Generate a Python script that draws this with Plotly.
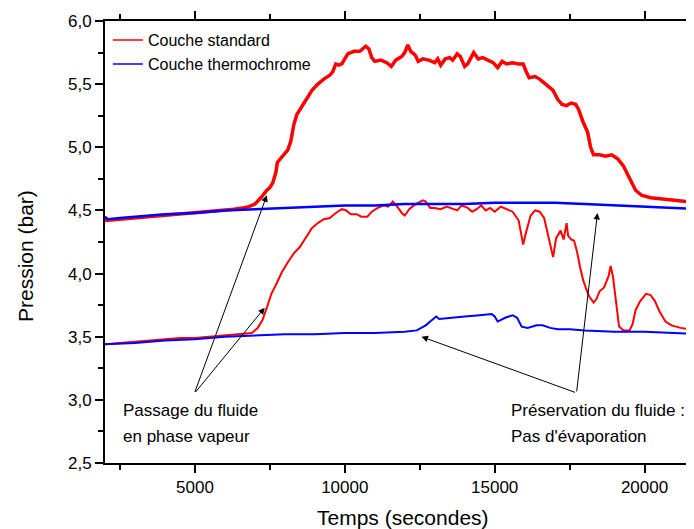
import plotly.graph_objects as go

# couche standard, courbe haute
std_haut_t = [2000, 2500, 3000, 3500, 4000, 4500, 5000, 5500, 6000, 6300, 6600, 6800, 7000, 7200, 7400, 7500,
              7600, 7700, 7750, 7850, 8000, 8100, 8200, 8300, 8400, 8500, 8700, 8900, 9100, 9300, 9500, 9600,
              9700, 9800, 9900, 10000, 10100, 10300, 10500, 10700, 10800, 10900, 11000, 11200, 11400, 11550,
              11700, 11900, 12000, 12100, 12200, 12350, 12450, 12600, 12800, 13000, 13100, 13200, 13350, 13500,
              13600, 13750, 13850, 14000, 14100, 14300, 14450, 14600, 14800, 14950, 15100, 15250, 15400, 15600,
              15800, 15950, 16050, 16150, 16350, 16500, 16700, 16850, 16950, 17100, 17250, 17400, 17550, 17700,
              17800, 17950, 18100, 18200, 18300, 18500, 18700, 18900, 19100, 19300, 19500, 19700, 19900, 20200,
              20600, 21000, 21400, 21800]
std_haut_p = [4.42, 4.43, 4.44, 4.45, 4.46, 4.47, 4.48, 4.49, 4.50, 4.51, 4.52, 4.53, 4.55, 4.60, 4.66, 4.68,
              4.72, 4.80, 4.88, 4.91, 4.95, 4.98, 5.05, 5.18, 5.26, 5.30, 5.38, 5.45, 5.50, 5.54, 5.57, 5.60,
              5.66, 5.65, 5.66, 5.70, 5.74, 5.76, 5.76, 5.80, 5.78, 5.71, 5.68, 5.69, 5.67, 5.64,
              5.69, 5.72, 5.75, 5.81, 5.76, 5.73, 5.68, 5.70, 5.69, 5.67, 5.70, 5.65, 5.70, 5.71,
              5.69, 5.74, 5.72, 5.64, 5.66, 5.75, 5.70, 5.71, 5.69, 5.67, 5.63, 5.68, 5.66, 5.67,
              5.66, 5.66, 5.60, 5.55, 5.56, 5.54, 5.50, 5.47, 5.45, 5.38, 5.34, 5.33, 5.35, 5.34,
              5.30, 5.20, 5.12, 5.00, 4.94, 4.94, 4.93, 4.94, 4.91, 4.85, 4.76, 4.66, 4.62, 4.60,
              4.59, 4.58, 4.57, 4.56]

# couche standard, courbe basse
std_bas_t = [2000, 2500, 3000, 3500, 4000, 4500, 5000, 5500, 6000, 6500, 6900, 7100, 7250, 7400, 7550, 7700,
             7900, 8100, 8300, 8500, 8700, 8900, 9100, 9300, 9500, 9700, 9900, 10050, 10200, 10400, 10550,
             10750, 10900, 11100, 11300, 11450, 11600, 11750, 11900, 12000, 12150, 12300, 12450, 12600, 12700,
             12850, 13000, 13200, 13400, 13600, 13750, 13900, 14100, 14250, 14400, 14550, 14700, 14850, 15000,
             15200, 15400, 15600, 15800, 15900, 15950, 16050, 16200, 16350, 16500, 16650, 16750, 16900, 16950,
             17050, 17200, 17300, 17400, 17450, 17550, 17650, 17750, 17850, 17950, 18050, 18150, 18300, 18400,
             18500, 18650, 18800, 18870, 18950, 19050, 19150, 19300, 19500, 19600, 19700, 19850, 20050, 20200,
             20350, 20500, 20700, 20900, 21200, 21500, 21800]
std_bas_p = [3.44, 3.45, 3.46, 3.47, 3.48, 3.49, 3.49, 3.50, 3.51, 3.52, 3.53, 3.57, 3.63, 3.73, 3.84, 3.91,
             4.01, 4.09, 4.16, 4.21, 4.28, 4.36, 4.40, 4.43, 4.44, 4.48, 4.51, 4.50, 4.47, 4.47, 4.45,
             4.45, 4.49, 4.52, 4.54, 4.53, 4.57, 4.53, 4.48, 4.46, 4.51, 4.54, 4.56, 4.58, 4.57,
             4.52, 4.52, 4.51, 4.53, 4.51, 4.50, 4.54, 4.52, 4.49, 4.51, 4.54, 4.50, 4.52, 4.49,
             4.53, 4.51, 4.49, 4.42, 4.30, 4.23, 4.33, 4.46, 4.50, 4.49, 4.44, 4.33, 4.18, 4.13,
             4.28, 4.34, 4.27, 4.40, 4.30, 4.27, 4.26, 4.17, 4.05, 3.95, 3.88, 3.82, 3.77, 3.80,
             3.86, 3.89, 3.98, 4.06, 3.97, 3.78, 3.58, 3.55, 3.55, 3.60, 3.71, 3.78, 3.84, 3.83,
             3.78, 3.70, 3.62, 3.59, 3.57, 3.56, 3.56]

# couche thermochrome, courbe haute
thermo_haut_t = [2000, 2100, 2500, 3000, 3500, 4000, 5000, 6000, 7000, 8000, 9000, 10000, 11000, 12000,
                 13000, 14000, 15000, 16000, 17000, 18000, 19000, 20000, 21000, 21800]
thermo_haut_p = [4.45, 4.43, 4.44, 4.45, 4.46, 4.47, 4.48, 4.50, 4.51, 4.52, 4.53, 4.54, 4.54, 4.55,
                 4.55, 4.55, 4.56, 4.56, 4.56, 4.55, 4.54, 4.53, 4.52, 4.51]

# couche thermochrome, courbe basse
thermo_bas_t = [2000, 3000, 4000, 5000, 6000, 7000, 8000, 9000, 10000, 11000, 12000, 12400, 12700, 12900,
                13050, 13150, 13500, 14000, 14500, 14900, 15000, 15100, 15350, 15600, 15750, 15900, 16100,
                16400, 16600, 16850, 17100, 17500, 18000, 19000, 20000, 21000, 21800]
thermo_bas_p = [3.44, 3.45, 3.47, 3.48, 3.50, 3.51, 3.52, 3.52, 3.53, 3.53, 3.54, 3.55, 3.59, 3.63,
                3.66, 3.64, 3.65, 3.66, 3.67, 3.68, 3.66, 3.62, 3.65, 3.67, 3.65, 3.58, 3.57,
                3.59, 3.59, 3.57, 3.56, 3.56, 3.55, 3.54, 3.54, 3.53, 3.52]

FONT = "Liberation Sans, Arial, sans-serif"
ROUGE = "#ff0000"
BLEU = "#0000ff"

fig = go.Figure()

fig.add_trace(go.Scatter(x=std_haut_t, y=std_haut_p, mode="lines", line=dict(color=ROUGE, width=3.5),
                         showlegend=False))
fig.add_trace(go.Scatter(x=std_bas_t, y=std_bas_p, mode="lines", line=dict(color=ROUGE, width=2),
                         showlegend=False))
fig.add_trace(go.Scatter(x=thermo_haut_t, y=thermo_haut_p, mode="lines", line=dict(color=BLEU, width=2.5),
                         showlegend=False))
fig.add_trace(go.Scatter(x=thermo_bas_t, y=thermo_bas_p, mode="lines", line=dict(color=BLEU, width=2),
                         showlegend=False))

# entrees de legende seules (traits fins)
fig.add_trace(go.Scatter(x=[None], y=[None], mode="lines", line=dict(color=ROUGE, width=1.5),
                         name="Couche standard"))
fig.add_trace(go.Scatter(x=[None], y=[None], mode="lines", line=dict(color=BLEU, width=1.5),
                         name="Couche thermochrome"))

# fleches
fleches = [
    (7400, 4.62, 4980, 3.05),
    (7330, 3.73, 4980, 3.05),
    (12560, 3.50, 17730, 3.055),
    (18430, 4.48, 17730, 3.055),
]
for x, y, ax, ay in fleches:
    fig.add_annotation(x=x, y=y, ax=ax, ay=ay, xref="x", yref="y", axref="x", ayref="y", text="",
                       showarrow=True, arrowhead=2, arrowsize=1.3, arrowwidth=1, arrowcolor="black")

textes = [
    (2530, 2.912, "Passage du fluide"),
    (2530, 2.706, "en phase vapeur"),
    (15470, 2.912, "Préservation du fluide :"),
    (15470, 2.706, "Pas d'évaporation"),
]
for x, y, t in textes:
    fig.add_annotation(x=x, y=y, xref="x", yref="y", text=t, showarrow=False, xanchor="left",
                       yanchor="middle", font=dict(family=FONT, size=17, color="black"))

# titres des axes
fig.add_annotation(x=0.506, y=-0.124, xref="paper", yref="paper", text="Temps (secondes)", showarrow=False,
                   xanchor="center", yanchor="middle", font=dict(family=FONT, size=21, color="black"))
fig.add_annotation(x=-0.136, y=0.468, xref="paper", yref="paper", text="Pression (bar)", showarrow=False,
                   textangle=-90, xanchor="center", yanchor="middle", font=dict(family=FONT, size=21, color="black"))

fig.update_xaxes(
    range=[2000, 21650], tick0=0, dtick=5000, tickformat="d",
    ticks="outside", ticklen=8, tickwidth=1.5, tickcolor="black",
    minor=dict(dtick=2500, ticks="outside", ticklen=5, tickwidth=1.5, tickcolor="black"),
    showline=True, linecolor="black", linewidth=2, mirror="allticks",
    showgrid=False, zeroline=False,
    tickfont=dict(family=FONT, size=17, color="black"),
)
fig.update_yaxes(
    range=[2.5, 6.0], tick0=0, dtick=0.5, tickformat=".1f",
    ticks="outside", ticklen=8, tickwidth=1.5, tickcolor="black",
    minor=dict(dtick=0.25, ticks="outside", ticklen=5, tickwidth=1.5, tickcolor="black"),
    showline=True, linecolor="black", linewidth=2,
    showgrid=False, zeroline=False,
    tickfont=dict(family=FONT, size=17, color="black"),
)

# la page ajoute 8 px de marge autour du graphique
fig.update_layout(
    width=686, height=521,
    margin=dict(l=97, r=0, t=13, b=66),
    plot_bgcolor="white", paper_bgcolor="white",
    separators=", ",
    font=dict(family=FONT, color="black"),
    legend=dict(x=0.005, y=0.995, xanchor="left", yanchor="top", bgcolor="rgba(0,0,0,0)",
                font=dict(family=FONT, size=16, color="black"), itemwidth=30,
                tracegroupgap=0),
)

fig.write_html("out.html")
